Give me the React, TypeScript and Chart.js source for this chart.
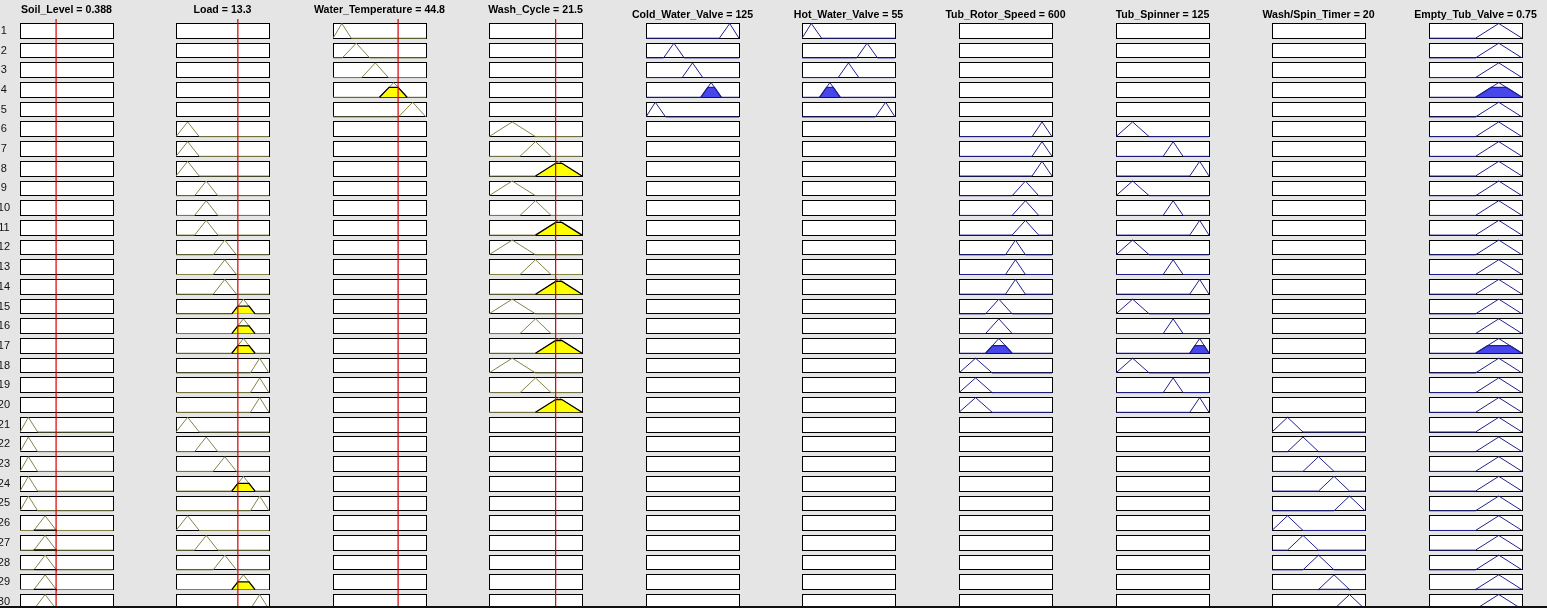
import React, { useEffect, useRef } from 'react';
import { Chart, registerables } from 'chart.js';

Chart.register(...registerables);

// ---------------- data ----------------
const ruleNumbers = [1, 2, 3, 4, 5, 6, 7, 8, 9, 10, 11, 12, 13, 14, 15, 16, 17, 18, 19, 20, 21, 22, 23, 24, 25, 26, 27, 28, 29, 30];

const inputNames = ['Soil_Level', 'Load', 'Water_Temperature', 'Wash_Cycle'];
const inputValues = [0.388, 13.3, 44.8, 21.5];
const inputRanges = [[0, 1], [0, 20], [0, 64], [0, 30]];
const soilMFs = [[0, 0.09, 0.19], [0.15, 0.27, 0.39]];
const loadMFs = [[0, 2.5, 5], [4, 6.5, 9], [8, 10.5, 13], [12, 14.5, 17], [16, 18, 20]];
const tempMFs = [[0, 6.1, 12.6], [6.4, 16, 25.2], [19.8, 29.1, 38.1], [32, 41.8, 51], [45, 54.8, 64]];
const washMFs = [[0, 7.5, 15], [10, 15, 20], [15, 22.5, 30]];

const outputNames = ['Cold_Water_Valve', 'Hot_Water_Valve', 'Tub_Rotor_Speed', 'Tub_Spinner', 'Wash/Spin_Timer', 'Empty_Tub_Valve'];
const outputValues = ['125', '55', '600', '125', '20', '0.75'];
const outputRanges = [[0, 180], [0, 180], [0, 1400], [0, 140], [0, 30], [0, 1]];
const valveMFs = [[0, 18, 38], [34, 54, 74], [70, 90, 110], [106, 126, 146], [142, 162, 180]];
const rotorMFs = [[0, 250, 500], [400, 600, 800], [700, 850, 1000], [800, 1000, 1200], [1100, 1250, 1400]];
const spinnerMFs = [[0, 25, 50], [71, 86, 101], [111, 126, 140]];
const timerMFs = [[0, 5, 10], [5, 10, 15], [10, 15, 20], [15, 20, 25], [20, 25, 30]];
const emptyMFs = [[0.5, 0.75, 1]];

// membership function used by each rule (1-based, 0 = not used)
const ruleSoil = [0, 0, 0, 0, 0, 0, 0, 0, 0, 0, 0, 0, 0, 0, 0, 0, 0, 0, 0, 0, 1, 1, 1, 1, 1, 2, 2, 2, 2, 2];
const ruleLoad = [0, 0, 0, 0, 0, 1, 1, 1, 2, 2, 2, 3, 3, 3, 4, 4, 4, 5, 5, 5, 1, 2, 3, 4, 5, 1, 2, 3, 4, 5];
const ruleTemp = [1, 2, 3, 4, 5, 0, 0, 0, 0, 0, 0, 0, 0, 0, 0, 0, 0, 0, 0, 0, 0, 0, 0, 0, 0, 0, 0, 0, 0, 0];
const ruleWash = [0, 0, 0, 0, 0, 1, 2, 3, 1, 2, 3, 1, 2, 3, 1, 2, 3, 1, 2, 3, 0, 0, 0, 0, 0, 0, 0, 0, 0, 0];
const ruleCold = [5, 2, 3, 4, 1, 0, 0, 0, 0, 0, 0, 0, 0, 0, 0, 0, 0, 0, 0, 0, 0, 0, 0, 0, 0, 0, 0, 0, 0, 0];
const ruleHot = [1, 4, 3, 2, 5, 0, 0, 0, 0, 0, 0, 0, 0, 0, 0, 0, 0, 0, 0, 0, 0, 0, 0, 0, 0, 0, 0, 0, 0, 0];
const ruleRotor = [0, 0, 0, 0, 0, 5, 5, 5, 4, 4, 4, 3, 3, 3, 2, 2, 2, 1, 1, 1, 0, 0, 0, 0, 0, 0, 0, 0, 0, 0];
const ruleSpinner = [0, 0, 0, 0, 0, 1, 2, 3, 1, 2, 3, 1, 2, 3, 1, 2, 3, 1, 2, 3, 0, 0, 0, 0, 0, 0, 0, 0, 0, 0];
const ruleTimer = [0, 0, 0, 0, 0, 0, 0, 0, 0, 0, 0, 0, 0, 0, 0, 0, 0, 0, 0, 0, 1, 2, 3, 4, 5, 1, 2, 3, 4, 5];
const ruleEmpty = [1, 1, 1, 1, 1, 1, 1, 1, 1, 1, 1, 1, 1, 1, 1, 1, 1, 1, 1, 1, 1, 1, 1, 1, 1, 1, 1, 1, 1, 1];

// ---------------- layout / style ----------------
const FONT = "'Liberation Sans', Arial, Helvetica, sans-serif";
const FIG_W = 1547;
const FIG_H = 608;
const ROW0 = 23.5;
const PITCH = 19.69;
const BOXH = 0.747;
const M = 32;
const BOX_W = 93;
const BOX_LEFT = [20, 176, 333, 489, 646, 802, 959, 1116, 1272, 1429];
const TITLE_SIZE = 10.6;
const BG = '#e5e5e5';
const OLIVE = '#85854a';
const NAVY = '#202090';
const YELLOW = '#ffff00';
const BLUE = '#4646eb';
const RED = '#d80000';

function trimf(x: number, p: number[]) {
  const [a, b, c] = p;
  if (x <= a || x >= c) return 0;
  if (x <= b) return b === a ? 1 : (x - a) / (b - a);
  return c === b ? 1 : (c - x) / (c - b);
}

type Col = { title: string; range: number[]; mfs: number[][]; rule: number[]; isInput: boolean; value: number };

const inputMFs = [soilMFs, loadMFs, tempMFs, washMFs];
const inputRules = [ruleSoil, ruleLoad, ruleTemp, ruleWash];
const outputMFs = [valveMFs, valveMFs, rotorMFs, spinnerMFs, timerMFs, emptyMFs];
const outputRules = [ruleCold, ruleHot, ruleRotor, ruleSpinner, ruleTimer, ruleEmpty];

// firing strength of each rule (min of used antecedents)
const strengths = ruleNumbers.map((_, r) => {
  let s = 1;
  let used = false;
  inputRules.forEach((rule, i) => {
    if (rule[r] > 0) {
      used = true;
      s = Math.min(s, trimf(inputValues[i], inputMFs[i][rule[r] - 1]));
    }
  });
  return used ? s : 0;
});

const columns: Col[] = [
  ...inputNames.map((n, i) => ({
    title: `${n} = ${inputValues[i]}`,
    range: inputRanges[i],
    mfs: inputMFs[i],
    rule: inputRules[i],
    isInput: true,
    value: inputValues[i],
  })),
  ...outputNames.map((n, i) => ({
    title: `${n} = ${outputValues[i]}`,
    range: outputRanges[i],
    mfs: outputMFs[i],
    rule: outputRules[i],
    isInput: false,
    value: 0,
  })),
];

function mfLine(r: number, mf: number[], range: number[]) {
  const [a, b, c] = mf;
  const pts = [[range[0], 0], [a, 0], [b, 1], [c, 0], [range[1], 0]];
  return pts.map(([x, m]) => ({ x, y: r + BOXH * (1 - m) }));
}

function fillShape(r: number, mf: number[], h: number) {
  const [a, b, c] = mf;
  return [
    { x: a, y: r + BOXH },
    { x: a + h * (b - a), y: r + BOXH * (1 - h) },
    { x: c - h * (c - b), y: r + BOXH * (1 - h) },
    { x: c, y: r + BOXH },
  ];
}

const boxPlugin = {
  id: 'cellBoxes',
  beforeDatasetsDraw(chart: any) {
    const { ctx } = chart;
    const xs = chart.scales.x;
    const ys = chart.scales.y;
    const x0 = Math.floor(xs.getPixelForValue(xs.min)) + 0.5;
    const x1 = Math.floor(xs.getPixelForValue(xs.max)) + 0.5;
    ctx.save();
    ctx.lineWidth = 1;
    ctx.strokeStyle = '#000';
    ctx.fillStyle = '#fff';
    ruleNumbers.forEach((_, r) => {
      const y0 = Math.floor(ys.getPixelForValue(r)) + 0.5;
      const y1 = Math.floor(ys.getPixelForValue(r + BOXH)) + 0.5;
      ctx.fillRect(x0, y0, x1 - x0, y1 - y0);
      ctx.strokeRect(x0, y0, x1 - x0, y1 - y0);
    });
    ctx.restore();
  },
};

function buildConfig(ci: number) {
  const col = columns[ci];
  const pt = col.isInput ? 4 : 9;
  const pb = col.isInput ? 2.28 : 0;
  const T = pt + 1.2 * TITLE_SIZE + pb;
  const yMin = (T - ROW0) / PITCH;
  const yMax = (FIG_H - ROW0) / PITCH;
  const datasets: any[] = [];
  col.rule.forEach((k, r) => {
    if (!k) return;
    const mf = col.mfs[k - 1];
    datasets.push({
      data: mfLine(r, mf, col.range),
      showLine: true,
      borderColor: col.isInput ? OLIVE : NAVY,
      borderWidth: 1,
      pointRadius: 0,
      fill: false,
      order: 2,
    });
    const h = col.isInput ? trimf(col.value, mf) : strengths[r];
    if (h > 0) {
      datasets.push({
        data: fillShape(r, mf, h),
        showLine: true,
        fill: 'shape',
        backgroundColor: col.isInput ? YELLOW : BLUE,
        borderColor: col.isInput ? '#000' : NAVY,
        borderWidth: 1.3,
        pointRadius: 0,
        order: 1,
      });
    }
  });
  if (col.isInput) {
    datasets.push({
      data: [{ x: col.value, y: yMin }, { x: col.value, y: yMax }],
      showLine: true,
      borderColor: RED,
      borderWidth: 1.2,
      pointRadius: 0,
      fill: false,
      order: 0,
    });
  }
  const first = ci === 0;
  return {
    type: 'scatter',
    data: { datasets },
    plugins: [boxPlugin],
    options: {
      responsive: false,
      maintainAspectRatio: false,
      animation: false,
      events: [],
      layout: { padding: 0, autoPadding: false },
      plugins: {
        legend: { display: false },
        tooltip: { enabled: false },
        title: {
          display: true,
          text: col.title,
          color: '#000',
          align: 'center',
          font: { family: FONT, size: TITLE_SIZE, weight: 'bold', lineHeight: 1.2 },
          padding: { top: pt, bottom: pb },
        },
      },
      scales: {
        x: { type: 'linear', display: false, min: col.range[0], max: col.range[1], bounds: 'data' },
        y: {
          type: 'linear',
          position: 'left',
          reverse: true,
          min: yMin,
          max: yMax,
          bounds: 'data',
          display: true,
          grid: { display: false, drawTicks: false },
          border: { display: false },
          ticks: first
            ? {
                display: true,
                autoSkip: false,
                padding: 10,
                crossAlign: 'center',
                color: '#111',
                font: { family: FONT, size: 11 },
                callback: (_v: any, i: number) => String(ruleNumbers[i]),
              }
            : { display: false },
          afterBuildTicks: (s: any) => {
            if (first) s.ticks = ruleNumbers.map((_, i) => ({ value: i + BOXH / 2 }));
          },
          afterFit: (s: any) => {
            s.width = M;
            s.paddingTop = 0;
            s.paddingBottom = 0;
          },
        },
        y2: {
          type: 'linear',
          position: 'right',
          display: true,
          grid: { display: false, drawTicks: false },
          border: { display: false },
          ticks: { display: false },
          afterFit: (s: any) => {
            s.width = M;
          },
        },
      },
    },
  };
}

function ColumnChart({ index }: { index: number }) {
  const ref = useRef<HTMLCanvasElement | null>(null);
  useEffect(() => {
    if (!ref.current) return;
    const chart = new Chart(ref.current, buildConfig(index) as any);
    return () => chart.destroy();
  }, [index]);
  const W = BOX_W + 2 * M;
  return (
    <canvas
      ref={ref}
      width={W}
      height={FIG_H}
      style={{ position: 'absolute', left: BOX_LEFT[index] - M, top: 0, width: W, height: FIG_H, display: 'block' }}
    />
  );
}

export default function App() {
  useEffect(() => {
    document.body.style.margin = '0';
    document.body.style.background = BG;
  }, []);
  return (
    <div style={{ position: 'fixed', left: 0, top: 0, width: FIG_W, height: FIG_H, background: BG, overflow: 'hidden' }}>
      {columns.map((_, i) => (
        <ColumnChart key={i} index={i} />
      ))}
      <div style={{ position: 'absolute', left: 0, top: 606, width: FIG_W, height: 2, background: '#111' }} />
    </div>
  );
}
